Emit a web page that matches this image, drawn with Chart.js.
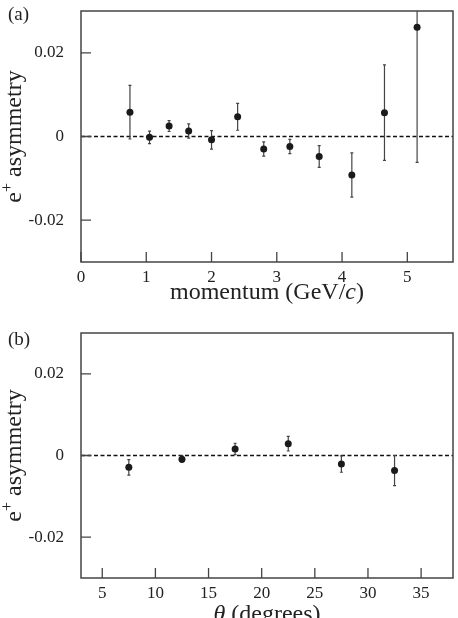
<!DOCTYPE html>
<html>
<head>
<meta charset="utf-8">
<script src="https://cdn.jsdelivr.net/npm/chart.js@4/dist/chart.umd.min.js"></script>
<style>
  html, body { margin: 0; padding: 0; background: #fff; overflow: hidden; }
  canvas { position: absolute; left: 0; }
  #chartA { top: 0; }
  #chartB { top: 306px; }
</style>
</head>
<body>
<canvas id="chartA" width="458" height="306"></canvas>
<canvas id="chartB" width="458" height="330"></canvas>
<script>
// panel (a): asymmetry vs momentum
const momentum = [0.75, 1.05, 1.35, 1.65, 2.0, 2.4, 2.8, 3.2, 3.65, 4.15, 4.65, 5.15];
const asymMomentum = [0.0058, -0.0002, 0.0025, 0.0013, -0.0008, 0.0047, -0.0030, -0.0024, -0.0048, -0.0092, 0.0057, 0.0261];
const errMomentum = [0.0064, 0.0015, 0.0013, 0.0017, 0.0022, 0.0032, 0.0017, 0.0017, 0.0026, 0.0053, 0.0114, 0.0323];
const momentumTicks = [0, 1, 2, 3, 4, 5];

// panel (b): asymmetry vs theta
const theta = [7.5, 12.5, 17.5, 22.5, 27.5, 32.5];
const asymTheta = [-0.0029, -0.0009, 0.0016, 0.0029, -0.0021, -0.0037];
const errTheta = [0.0019, 0.0008, 0.0014, 0.0018, 0.0020, 0.0037];
const thetaTicks = [5, 10, 15, 20, 25, 30, 35];

const asymTicks = [-0.02, 0, 0.02];

const SERIF = "'Liberation Serif', 'Times New Roman', serif";
const INK = "#222";
const LINE = "#444";

/* error bars + zero line + frame + inward ticks + titles */
const decor = {
  id: "decor",
  beforeDatasetsDraw(chart) {
    const { ctx, chartArea: a, scales } = chart;
    const y0 = scales.y.getPixelForValue(0);
    ctx.save();
    ctx.strokeStyle = "#111";
    ctx.lineWidth = 1.3;
    ctx.setLineDash([4, 2.5]);
    ctx.beginPath();
    ctx.moveTo(a.left, y0);
    ctx.lineTo(a.right, y0);
    ctx.stroke();
    ctx.restore();

    // error bars
    ctx.save();
    ctx.beginPath();
    ctx.rect(a.left, a.top, a.right - a.left, a.bottom - a.top);
    ctx.clip();
    ctx.strokeStyle = LINE;
    ctx.lineWidth = 1.2;
    chart.data.datasets.forEach((ds) => {
      (ds.errors || []).forEach((e, i) => {
        const p = ds.data[i];
        const x = scales.x.getPixelForValue(p.x);
        const yt = scales.y.getPixelForValue(p.y + e);
        const yb = scales.y.getPixelForValue(p.y - e);
        ctx.beginPath();
        ctx.moveTo(x, yt);
        ctx.lineTo(x, yb);
        ctx.moveTo(x - 1.5, yt);
        ctx.lineTo(x + 1.5, yt);
        ctx.moveTo(x - 1.5, yb);
        ctx.lineTo(x + 1.5, yb);
        ctx.stroke();
      });
    });
    ctx.restore();
  },
  afterDraw(chart, args, opts) {
    const { ctx, chartArea: a, scales } = chart;
    ctx.save();
    ctx.strokeStyle = LINE;
    ctx.lineWidth = 1.5;
    ctx.strokeRect(a.left, a.top, a.right - a.left, a.bottom - a.top);

    // inward tick marks
    ctx.lineWidth = 1.3;
    ctx.beginPath();
    scales.x.ticks.forEach((t) => {
      const x = scales.x.getPixelForValue(t.value);
      ctx.moveTo(x, a.bottom);
      ctx.lineTo(x, a.bottom - 10);
    });
    scales.y.ticks.forEach((t) => {
      const y = scales.y.getPixelForValue(t.value);
      ctx.moveTo(a.left, y);
      ctx.lineTo(a.left + 10, y);
    });
    ctx.stroke();

    ctx.fillStyle = INK;
    ctx.textBaseline = "alphabetic";

    // panel label
    ctx.font = "19px " + SERIF;
    ctx.textAlign = "left";
    ctx.fillText(opts.panel, 8, opts.panelY);

    // x title with mixed italic parts
    const parts = opts.xTitle;
    const fontOf = (p) => (p.italic ? "italic " : "") + "24px " + SERIF;
    let total = 0;
    parts.forEach((p) => {
      ctx.font = fontOf(p);
      total += ctx.measureText(p.text).width;
    });
    let cx = (a.left + a.right) / 2 - total / 2;
    const by = a.bottom + opts.xTitleGap;
    parts.forEach((p) => {
      ctx.font = fontOf(p);
      ctx.fillText(p.text, cx, by);
      cx += ctx.measureText(p.text).width;
    });

    // y title: e+ asymmetry, rotated
    ctx.translate(21, (a.top + a.bottom) / 2);
    ctx.rotate(-Math.PI / 2);
    ctx.font = "24px " + SERIF;
    const wE = ctx.measureText("e").width;
    const wRest = ctx.measureText(" asymmetry").width;
    ctx.font = "16px " + SERIF;
    const wPlus = ctx.measureText("+").width;
    let sx = -(wE + wPlus + wRest) / 2;
    ctx.font = "24px " + SERIF;
    ctx.fillText("e", sx, 0);
    sx += wE;
    ctx.font = "16px " + SERIF;
    ctx.fillText("+", sx, -9);
    sx += wPlus;
    ctx.font = "24px " + SERIF;
    ctx.fillText(" asymmetry", sx, 0);
    ctx.restore();
  },
};

function makeChart(id, xs, ys, errs, xTicks, xMin, xMax, layout, labels) {
  const ctx = document.getElementById(id).getContext("2d");
  return new Chart(ctx, {
    type: "scatter",
    data: {
      datasets: [
        {
          data: xs.map((x, i) => ({ x: x, y: ys[i] })),
          errors: errs,
          pointRadius: 3.5,
          pointBackgroundColor: "#1a1a1a",
          pointBorderWidth: 0,
        },
      ],
    },
    options: {
      responsive: false,
      animation: false,
      events: [],
      layout: { padding: { top: layout.top, right: 5, left: 0, bottom: 0 } },
      plugins: {
        legend: { display: false },
        tooltip: { enabled: false },
        decor: labels,
      },
      scales: {
        x: {
          type: "linear",
          min: xMin,
          max: xMax,
          afterBuildTicks: (s) => {
            s.ticks = xTicks.map((v) => ({ value: v }));
          },
          afterFit: (s) => {
            s.height = layout.xHeight;
            s.paddingLeft = 0;
            s.paddingRight = 0;
          },
          grid: { display: false, drawTicks: false },
          border: { display: false },
          ticks: {
            autoSkip: false,
            maxRotation: 0,
            padding: 5,
            color: INK,
            font: { family: SERIF, size: 17 },
            callback: (v) => String(v),
          },
        },
        y: {
          type: "linear",
          min: -0.03,
          max: 0.03,
          afterBuildTicks: (s) => {
            s.ticks = asymTicks.map((v) => ({ value: v }));
          },
          afterFit: (s) => {
            s.width = 81;
            s.paddingTop = 0;
            s.paddingBottom = 0;
          },
          grid: { display: false, drawTicks: false },
          border: { display: false },
          ticks: {
            padding: 17,
            color: INK,
            font: { family: SERIF, size: 17 },
            callback: (v) => (v === 0 ? "0" : v.toFixed(2)),
          },
        },
      },
    },
    plugins: [decor],
  });
}

makeChart("chartA", momentum, asymMomentum, errMomentum, momentumTicks, 0, 5.7,
  { top: 11, xHeight: 44 },
  {
    panel: "(a)",
    panelY: 20,
    xTitleGap: 37,
    xTitle: [{ text: "momentum (GeV/" }, { text: "c", italic: true }, { text: ")" }],
  });

makeChart("chartB", theta, asymTheta, errTheta, thetaTicks, 3, 38,
  { top: 27, xHeight: 58 },
  {
    panel: "(b)",
    panelY: 39,
    xTitleGap: 43,
    xTitle: [{ text: "θ", italic: true }, { text: " (degrees)" }],
  });
</script>
</body>
</html>
